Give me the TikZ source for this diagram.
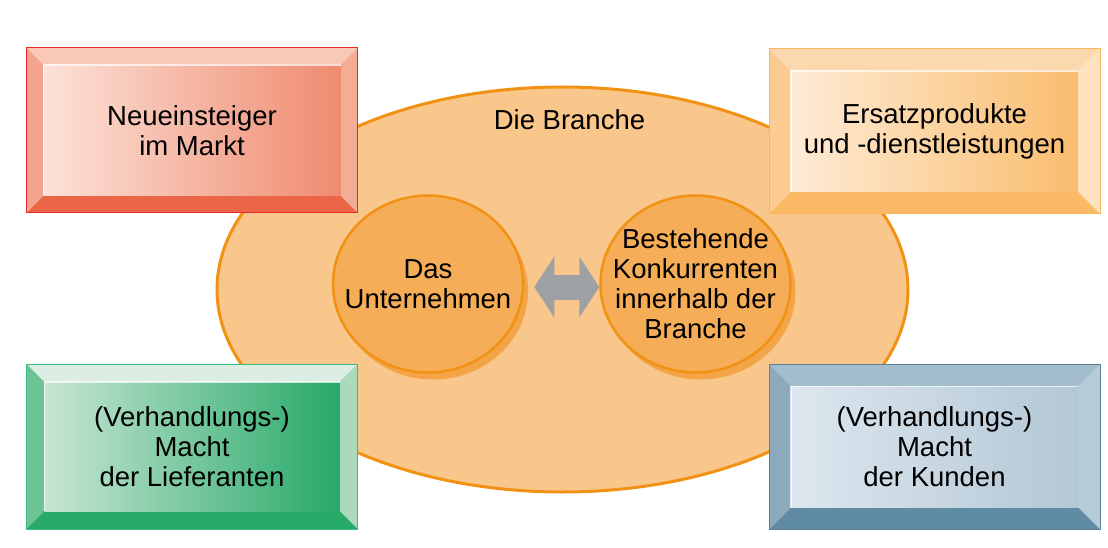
\documentclass[tikz,border=0pt]{standalone}
\usepackage{fontspec}
\setmainfont{Liberation Sans}
\usetikzlibrary{shapes.geometric,arrows.meta,positioning,shadows}
\definecolor{brFill}{HTML}{F9C68C}
\definecolor{brLine}{HTML}{F29214}
\definecolor{ciFill}{HTML}{F6AD57}
\definecolor{ciShadow}{HTML}{F2A446}
\definecolor{arGray}{HTML}{9DA1A3}
\definecolor{entryBd}{HTML}{E52A2A}
\definecolor{entryT}{HTML}{F9C8B6}
\definecolor{entryL}{HTML}{F4A38D}
\definecolor{entryR}{HTML}{F5AC94}
\definecolor{entryB}{HTML}{EB6647}
\definecolor{entryA}{HTML}{FCE2D8}
\definecolor{entryZ}{HTML}{EF8B70}
\definecolor{substBd}{HTML}{F9B55C}
\definecolor{substT}{HTML}{FCD8AE}
\definecolor{substL}{HTML}{FBCB92}
\definecolor{substR}{HTML}{FDE2C0}
\definecolor{substB}{HTML}{F9B965}
\definecolor{substA}{HTML}{FEEBD6}
\definecolor{substZ}{HTML}{F9BD6E}
\definecolor{supplBd}{HTML}{3DBB7C}
\definecolor{supplT}{HTML}{DCEEE4}
\definecolor{supplL}{HTML}{6DC394}
\definecolor{supplR}{HTML}{AAD9BC}
\definecolor{supplB}{HTML}{27A968}
\definecolor{supplA}{HTML}{C7E6D4}
\definecolor{supplZ}{HTML}{27A968}
\definecolor{buyerBd}{HTML}{5C8299}
\definecolor{buyerT}{HTML}{A3BDCC}
\definecolor{buyerL}{HTML}{8DAABC}
\definecolor{buyerR}{HTML}{B5CBD7}
\definecolor{buyerB}{HTML}{5F8BA3}
\definecolor{buyerA}{HTML}{DDE7EF}
\definecolor{buyerZ}{HTML}{B3C7D5}
\tikzset{
  pfont/.style={font=\fontsize{27.5}{30}\selectfont},
  bevel/.style 2 args={rectangle, draw=#1Bd, line width=1pt,
               pfont, align=center, inner sep=0pt,
               minimum width=331pt, minimum height=165pt,
               path picture={
                 \coordinate (pnw) at (path picture bounding box.north west);
                 \coordinate (pse) at (path picture bounding box.south east);
                 \coordinate (inw) at ([shift={(#2,-#2)}]pnw);
                 \coordinate (ise) at ([shift={(-#2,#2)}]pse);
                 \fill[#1T] (pnw) -- (pse |- pnw) -- (ise |- inw) -- (inw) -- cycle;
                 \fill[#1L] (pnw) -- (inw) -- (inw |- ise) -- (pnw |- pse) -- cycle;
                 \fill[#1R] (pse |- pnw) -- (pse) -- (ise) -- (ise |- inw) -- cycle;
                 \fill[#1B] (pnw |- pse) -- (inw |- ise) -- (ise) -- (pse) -- cycle;
                 \shade[left color=#1A, right color=#1Z] (inw) rectangle (ise);
                 \draw[white, opacity=0.7, line width=1.2pt]
                   (inw |- ise) -- (inw) -- (ise |- inw);
               }},
  branche/.style={ellipse, draw=brLine, line width=3pt, fill=brFill,
               minimum width=691pt, minimum height=405pt},
  circ/.style={ellipse, draw=brLine, line width=2.5pt, fill=ciFill,
               minimum width=190pt, minimum height=177pt,
               pfont, align=center, inner xsep=-20pt, inner ysep=0pt,
               drop shadow={shadow xshift=5pt, shadow yshift=-7pt,
                            fill=ciShadow, opacity=1}},
  dblarr/.style={{Triangle[width=60pt,length=20pt]}-{Triangle[width=60pt,length=20pt]},
               line width=25pt, draw=arGray, shorten <=10pt}
}
\begin{document}
\begin{tikzpicture}[x=1pt,y=1pt]
\useasboundingbox (0,0) rectangle (1108,547);
\node[branche] (branche) at (562.5,257.5) {};
\node[pfont, below=21pt of branche.north, xshift=7pt] (bname) {Die Branche};
\node[circ] (firm) at (428,263) {Das\\Unternehmen};
\node[circ, right=75pt of firm] (rivals) {Bestehende\\Konkurrenten\\innerhalb der\\Branche};
\draw[dblarr] ([yshift=-3pt]firm.east) -- ([yshift=-3pt]rivals.west);
\node[bevel={entry}{17pt}] (entry) at (192,416.5) {Neueinsteiger\\im Markt};
\node[bevel={subst}{22pt}] (subst) at (934.5,415.5) {Ersatzprodukte\\und -dienstleistungen};
\node[bevel={suppl}{18pt}] (suppl) at (192,100.5) {(Verhandlungs-)\\Macht\\der Lieferanten};
\node[bevel={buyer}{22pt}] (buyer) at (934.5,100) {(Verhandlungs-)\\Macht\\der Kunden};
\end{tikzpicture}
\end{document}
